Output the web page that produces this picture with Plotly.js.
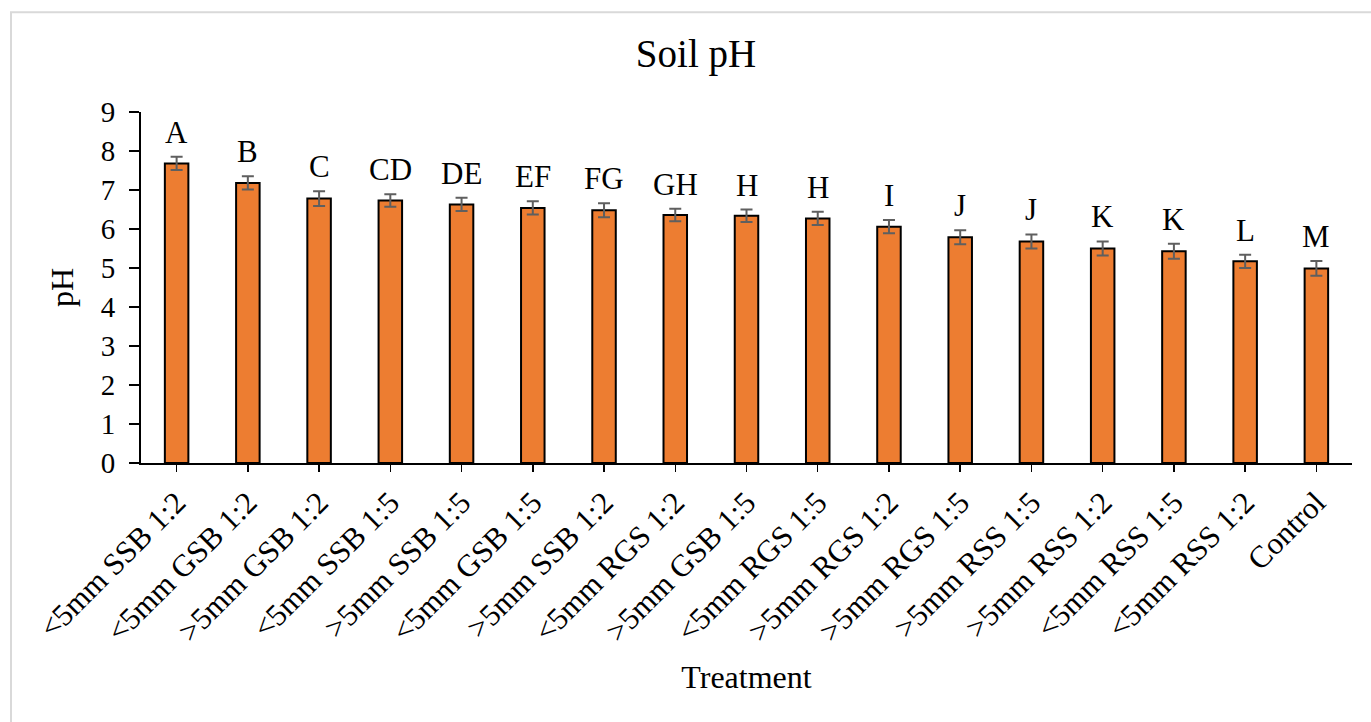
<!DOCTYPE html>
<html>
<head>
<meta charset="utf-8">
<script src="https://cdn.plot.ly/plotly-3.0.1.min.js"></script>
<style>
  html, body { margin: 0; padding: 0; background: #fff; }
  #chart { width: 1371px; height: 722px; }
</style>
</head>
<body>
<div id="chart"></div>
<script>
const categories = ['<5mm SSB 1:2', '<5mm GSB 1:2', '>5mm GSB 1:2', '<5mm SSB 1:5', '>5mm SSB 1:5',
  '<5mm GSB 1:5', '>5mm SSB 1:2', '<5mm RGS 1:2', '>5mm GSB 1:5', '<5mm RGS 1:5', '>5mm RGS 1:2',
  '>5mm RGS 1:5', '>5mm RSS 1:5', '>5mm RSS 1:2', '<5mm RSS 1:5', '<5mm RSS 1:2', 'Control'];
const phValues = [7.68, 7.18, 6.78, 6.73, 6.63, 6.54, 6.48, 6.36, 6.34, 6.27, 6.06, 5.79, 5.68, 5.50, 5.43, 5.17, 4.99];
const phErrors = [0.17, 0.17, 0.19, 0.16, 0.17, 0.17, 0.18, 0.16, 0.16, 0.17, 0.17, 0.18, 0.18, 0.18, 0.19, 0.17, 0.19];
const sigLetters = ['A', 'B', 'C', 'CD', 'DE', 'EF', 'FG', 'GH', 'H', 'H', 'I', 'J', 'J', 'K', 'K', 'L', 'M'];
const yTicks = [0, 1, 2, 3, 4, 5, 6, 7, 8, 9];

const FONT = 'Liberation Serif, Times New Roman, serif';

const trace = {
  type: 'bar',
  x: categories,
  y: phValues,
  marker: { color: '#ED7D31', line: { color: '#000000', width: 2 } },
  error_y: { type: 'data', array: phErrors, visible: true, color: '#5f5f5f', thickness: 2, width: 6 },
  hoverinfo: 'x+y'
};

const annotations = categories.map((c, i) => ({
  x: c, y: phValues[i] + phErrors[i], xref: 'x', yref: 'y',
  text: sigLetters[i], showarrow: false, yanchor: 'bottom', yshift: 5,
  font: { family: FONT, size: 31, color: '#000' }
}));

const layout = {
  width: 1371, height: 722,
  margin: { l: 141, r: 19, t: 112, b: 259, pad: 0 },
  paper_bgcolor: '#ffffff', plot_bgcolor: '#ffffff',
  font: { family: FONT, color: '#000' },
  showlegend: false,
  bargap: 0.67,
  title: {
    text: 'Soil pH', x: 696 / 1371, xanchor: 'center', xref: 'container',
    yref: 'container', y: 1 - 53 / 722, yanchor: 'middle',
    font: { family: FONT, size: 39, color: '#000' }
  },
  xaxis: {
    type: 'category',
    tickangle: -45,
    tickfont: { family: FONT, size: 31, color: '#000' },
    ticks: 'outside', ticklen: 7, tickwidth: 1.5, tickcolor: '#000',
    showline: true, linecolor: '#000', linewidth: 2,
    showgrid: false, zeroline: false,
    automargin: false,
    title: { text: 'Treatment', font: { family: FONT, size: 32, color: '#000' }, standoff: 18 }
  },
  yaxis: {
    range: [0, 9],
    tickvals: yTicks,
    ticktext: yTicks.map(String),
    tickfont: { family: FONT, size: 29, color: '#000' },
    ticks: 'outside', ticklen: 10, tickwidth: 1.5, tickcolor: '#000',
    ticklabelstandoff: 8,
    showline: true, linecolor: '#000', linewidth: 2,
    showgrid: false, zeroline: false,
    automargin: false,
    title: { text: 'pH', font: { family: FONT, size: 32, color: '#000' }, standoff: 18 }
  },
  annotations: annotations,
  shapes: [
    { type: 'rect', xref: 'paper', yref: 'paper', x0: (11 - 141) / 1211, x1: 1.5, y0: -2, y1: (462.7 - 12) / 351,
      line: { color: '#d9d9d9', width: 2 }, fillcolor: 'rgba(0,0,0,0)', layer: 'below' },
    { type: 'line', xref: 'paper', yref: 'y', ysizemode: 'pixel', yanchor: 0, x0: 1, x1: 1, y0: 0, y1: -7,
      line: { color: '#000', width: 1.5 } }
  ]
};

Plotly.newPlot('chart', [trace], layout, { displayModeBar: false, staticPlot: true });
</script>
</body>
</html>
